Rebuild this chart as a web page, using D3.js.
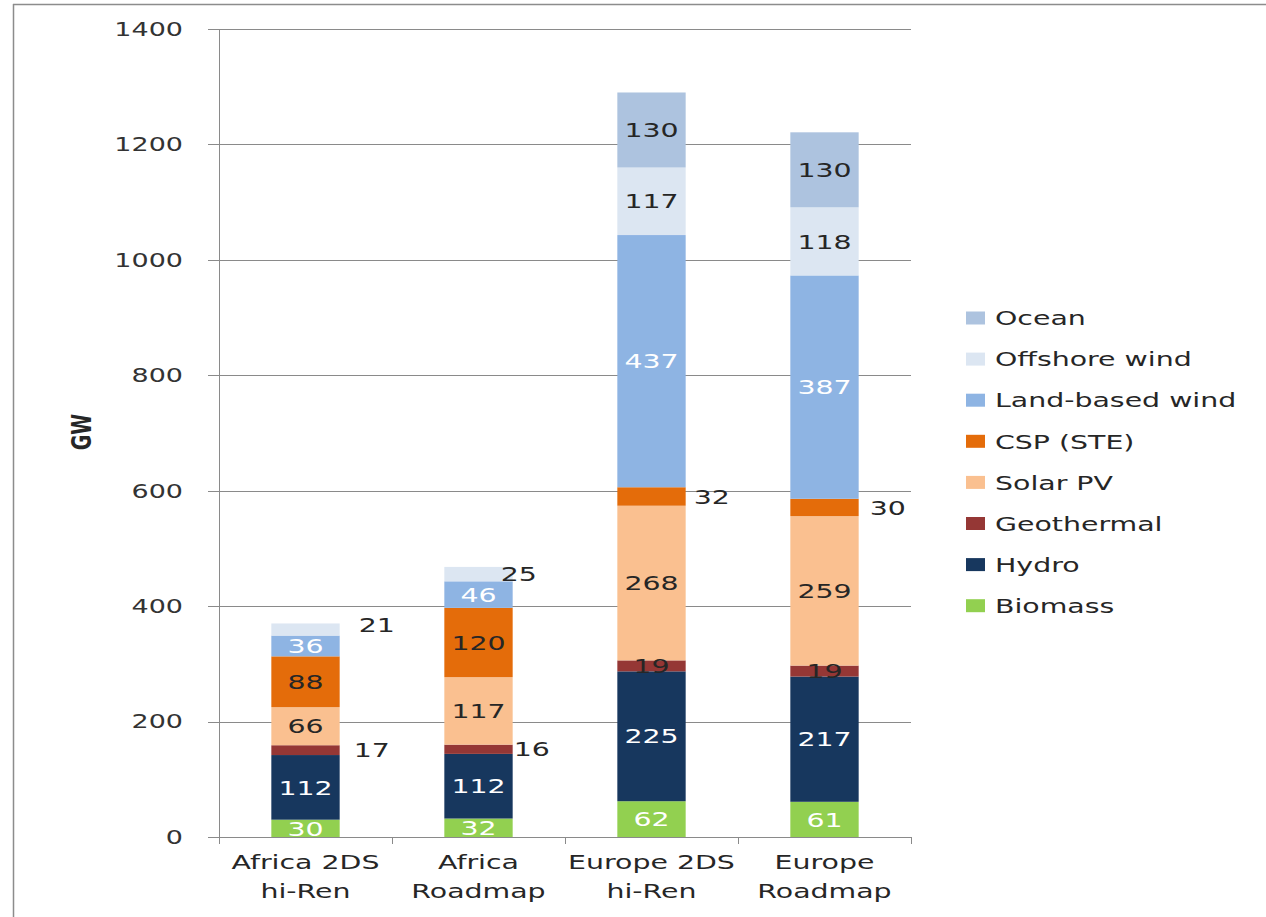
<!DOCTYPE html>
<html>
<head>
<meta charset="utf-8">
<script src="https://cdn.jsdelivr.net/npm/d3@7/dist/d3.min.js"></script>
<style>
  body { margin: 0; background: #fff; }
  svg text { font-family: "DejaVu Sans", Verdana, sans-serif; }
</style>
</head>
<body>
<svg id="chart" width="1266" height="917"></svg>
<script>
// Installed renewable capacity (GW) by scenario
const categories = ["Africa 2DS hi-Ren", "Africa Roadmap", "Europe 2DS hi-Ren", "Europe Roadmap"];
const categoryLines = [["Africa 2DS", "hi-Ren"], ["Africa", "Roadmap"], ["Europe 2DS", "hi-Ren"], ["Europe", "Roadmap"]];
const seriesNames = ["Biomass", "Hydro", "Geothermal", "Solar PV", "CSP (STE)", "Land-based wind", "Offshore wind", "Ocean"];
const biomass      = [30, 32, 62, 61];
const hydro        = [112, 112, 225, 217];
const geothermal   = [17, 16, 19, 19];
const solarPV      = [66, 117, 268, 259];
const csp          = [88, 120, 32, 30];
const landWind     = [36, 46, 437, 387];
const offshoreWind = [21, 25, 117, 118];
const ocean        = [0, 0, 130, 130];
const yTicks = [0, 200, 400, 600, 800, 1000, 1200, 1400];

const seriesValues = [biomass, hydro, geothermal, solarPV, csp, landWind, offshoreWind, ocean];
const colors = ["#92d050", "#17375e", "#953735", "#fac090", "#e46c0a", "#8eb4e3", "#dce6f2", "#adc3df"];
const labelColors = ["#ffffff", "#ffffff", "#262626", "#262626", "#262626", "#ffffff", "#262626", "#262626"];

// Labels drawn beside the bar instead of inside it: [series, category] -> offset from bar edge
const besideLabels = {
  "Geothermal|0": { dx: 14, dy: 0 },
  "Offshore wind|0": { dx: 19, dy: -5 },
  "Geothermal|1": { dx: 1, dy: 0 },
  "Offshore wind|1": { dx: -12, dy: 0 },
  "CSP (STE)|2": { dx: 8, dy: 0 },
  "CSP (STE)|3": { dx: 11, dy: 0 }
};

const SX = 1.42; // horizontal text stretch
const svg = d3.select("#chart");

// outer frame (top and left edges)
svg.append("line").attr("x1", 13).attr("x2", 1266).attr("y1", 4.5).attr("y2", 4.5)
  .attr("stroke", "#8c8c8c").attr("stroke-width", 1.5);
svg.append("line").attr("x1", 13.5).attr("x2", 13.5).attr("y1", 4).attr("y2", 917)
  .attr("stroke", "#8c8c8c").attr("stroke-width", 1.5);

const x = d3.scaleBand().domain(categories).range([219, 911]).padding(0);
const y = d3.scaleLinear().domain([0, 1400]).range([837, 29]);
const barW = x.bandwidth() * 0.395;

// gridlines
svg.append("g").selectAll("line").data(yTicks).join("line")
  .attr("x1", 208).attr("x2", 911)
  .attr("y1", d => Math.round(y(d)) + 0.5).attr("y2", d => Math.round(y(d)) + 0.5)
  .attr("stroke", "#8a8a8a").attr("stroke-width", 1);

// y axis line
svg.append("line").attr("x1", 219.5).attr("x2", 219.5).attr("y1", y(1400)).attr("y2", y(0))
  .attr("stroke", "#8a8a8a").attr("stroke-width", 1);

// y tick labels
svg.append("g").selectAll("text").data(yTicks).join("text")
  .attr("transform", d => `translate(183,${y(d)}) scale(${SX},1)`)
  .attr("text-anchor", "end").attr("dy", "0.36em")
  .attr("font-size", 19).attr("fill", "#333")
  .text(d => d);

// x axis category ticks
const boundaries = categories.map(c => x(c)).concat([x.range()[1]]);
svg.append("g").selectAll("line").data(boundaries).join("line")
  .attr("x1", d => Math.round(d) + 0.5).attr("x2", d => Math.round(d) + 0.5)
  .attr("y1", y(0)).attr("y2", y(0) + 7)
  .attr("stroke", "#8a8a8a").attr("stroke-width", 1);

// stacked segments
const stackRows = categories.map((c, i) => {
  const row = { category: c, index: i };
  seriesNames.forEach((s, j) => row[s] = seriesValues[j][i]);
  return row;
});
const stacked = d3.stack().keys(seriesNames)(stackRows);

const segG = svg.append("g");
stacked.forEach((layer, j) => {
  segG.append("g").attr("fill", colors[j]).selectAll("rect")
    .data(layer.filter(d => d[1] > d[0])).join("rect")
    .attr("x", d => x(d.data.category) + (x.bandwidth() - barW) / 2)
    .attr("width", barW)
    .attr("y", d => y(d[1]))
    .attr("height", d => y(d[0]) - y(d[1]));
});

// value labels
const labG = svg.append("g");
stacked.forEach((layer, j) => {
  layer.forEach((d, i) => {
    const v = d[1] - d[0];
    if (v <= 0) return;
    const key = seriesNames[j] + "|" + i;
    const mid = y((d[0] + d[1]) / 2);
    const cx = x(d.data.category) + x.bandwidth() / 2;
    const side = besideLabels[key];
    if (side) {
      const left = cx + barW / 2 + side.dx;
      labG.append("text")
        .attr("transform", `translate(${left},${mid + side.dy}) scale(${SX},1)`)
        .attr("dy", "0.36em").attr("font-size", 20).attr("fill", "#262626")
        .text(v);
    } else {
      labG.append("text")
        .attr("transform", `translate(${cx},${mid}) scale(${SX},1)`)
        .attr("text-anchor", "middle").attr("dy", "0.36em")
        .attr("font-size", 20).attr("fill", labelColors[j])
        .text(v);
    }
  });
});

// category labels (two lines)
const catG = svg.append("g");
categories.forEach((c, i) => {
  const cx = x(c) + x.bandwidth() / 2;
  categoryLines[i].forEach((line, k) => {
    catG.append("text")
      .attr("transform", `translate(${cx},${869 + k * 29}) scale(${SX},1)`)
      .attr("text-anchor", "middle").attr("font-size", 20).attr("fill", "#262626")
      .text(line);
  });
});

// y axis title
svg.append("text")
  .attr("transform", `translate(81,432) scale(${SX},1) rotate(-90)`)
  .attr("text-anchor", "middle").attr("dy", "0.36em")
  .attr("font-size", 19).attr("font-weight", "bold").attr("fill", "#262626")
  .text("GW");

// legend, top entry = top of the stack
const legendOrder = seriesNames.map((s, j) => j).reverse();
const leg = svg.append("g");
legendOrder.forEach((j, k) => {
  const cy = 318 + k * 41.1;
  leg.append("rect").attr("x", 966).attr("y", cy - 6.5).attr("width", 19).attr("height", 13)
    .attr("fill", colors[j]);
  leg.append("text")
    .attr("transform", `translate(995,${cy}) scale(${SX},1)`)
    .attr("dy", "0.36em").attr("font-size", 20).attr("fill", "#262626")
    .text(seriesNames[j]);
});
</script>
</body>
</html>
